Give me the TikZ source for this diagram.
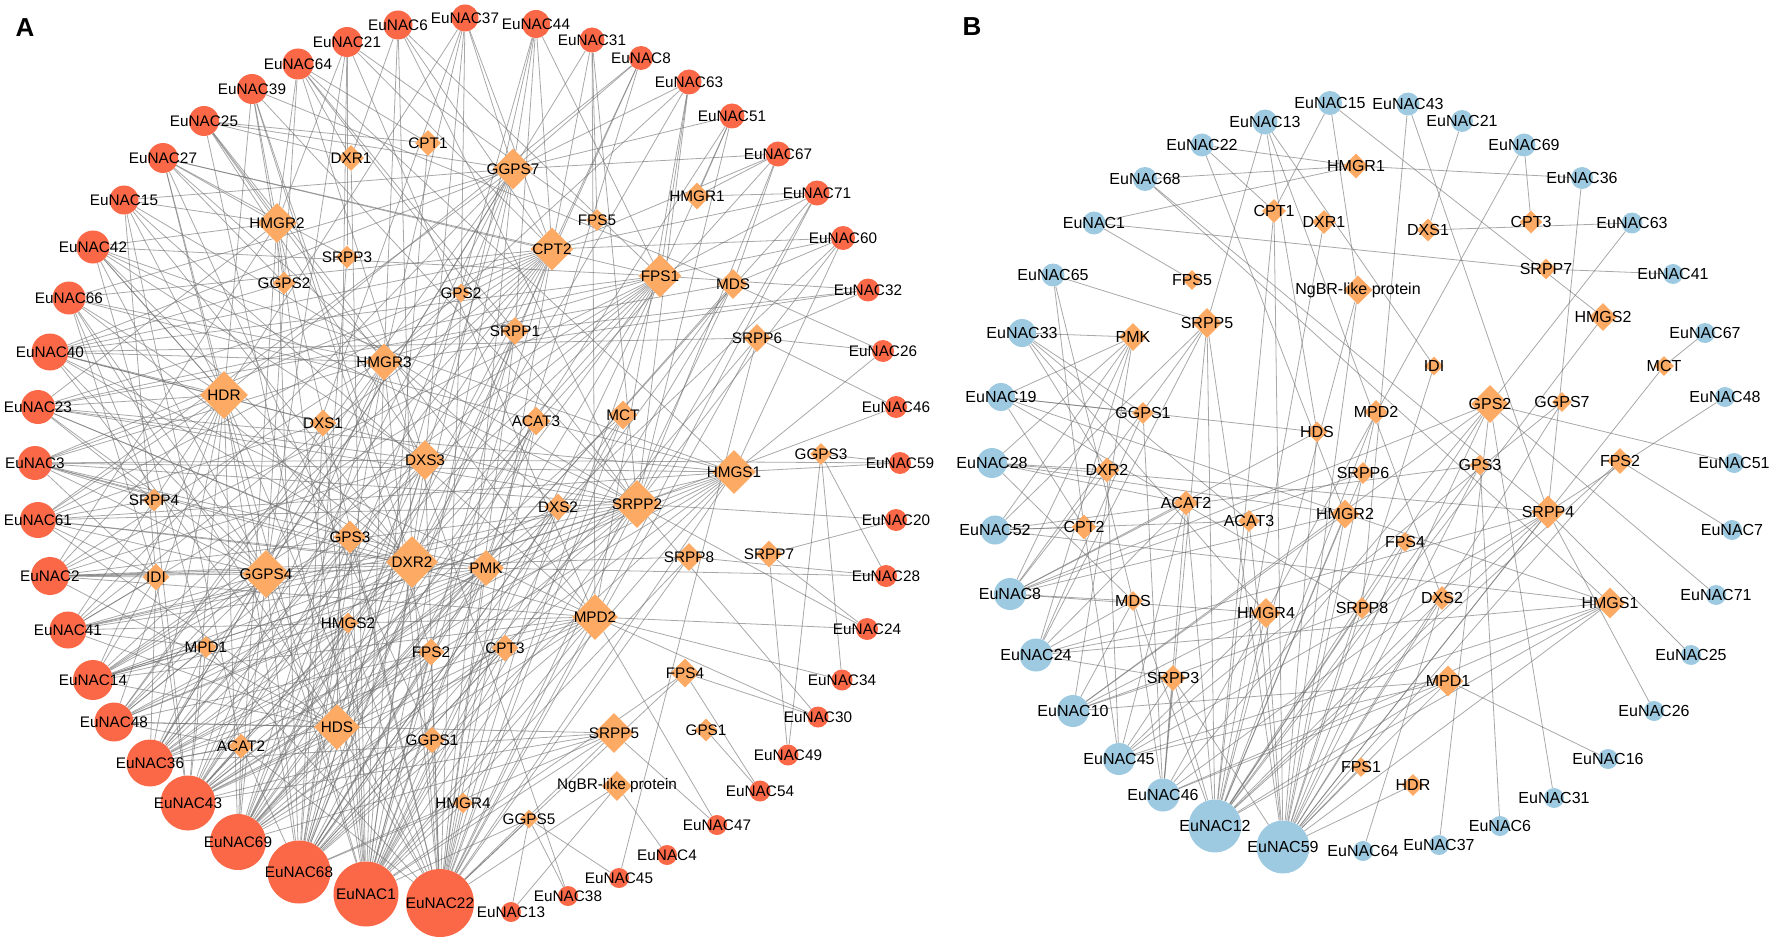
\documentclass[tikz,border=0pt]{standalone}
\usepackage{fontspec}
\setmainfont{Liberation Sans}
\usepackage{tikz}
\usetikzlibrary{shapes.geometric}
\usetikzlibrary{backgrounds}
\definecolor{nac-red}{RGB}{250,104,72}
\definecolor{nac-blue}{RGB}{158,202,225}
\definecolor{gene-orange}{RGB}{253,170,100}
\definecolor{edge-gray}{RGB}{110,110,110}

\begin{document}
\begin{tikzpicture}[x=1pt, y=-1pt,
nacA/.style={circle,inner sep=0pt,fill=nac-red,label={center:EuNAC#1}},
nacB/.style={circle,inner sep=0pt,fill=nac-blue,label={center:EuNAC#1}},
gene/.style={diamond,inner sep=0pt,fill=gene-orange,label={center:#1}},
edge/.style={draw=edge-gray,draw opacity=0.6,line width=0.8pt},
every label/.style={font=\fontsize{15.3}{16}\selectfont,inner sep=0pt},
panel/.style={font=\bfseries\fontsize{26}{28}\selectfont}]
\useasboundingbox (0,0) rectangle (1772,947);

% panel letters
\node[panel] (labA) at (25,28) {A};
\node[panel] (labB) at (972,27) {B};

%%%%%%%%%%%%%% panel A
% NAC ring
\node[nacA=6, minimum size=29] (aN6) at (398,25) {};
\node[nacA=21, minimum size=30] (aN21) at (347,42) {};
\node[nacA=64, minimum size=31] (aN64) at (298,64) {};
\node[nacA=39, minimum size=30] (aN39) at (252,89) {};
\node[nacA=25, minimum size=30] (aN25) at (204,121) {};
\node[nacA=27, minimum size=30] (aN27) at (163,158) {};
\node[nacA=15, minimum size=29] (aN15) at (124,200) {};
\node[nacA=42, minimum size=33] (aN42) at (93,247) {};
\node[nacA=66, minimum size=33] (aN66) at (69,298) {};
\node[nacA=40, minimum size=37] (aN40) at (50,352) {};
\node[nacA=23, minimum size=34] (aN23) at (38,407) {};
\node[nacA=3, minimum size=34] (aN3) at (35,463) {};
\node[nacA=61, minimum size=36] (aN61) at (38,520) {};
\node[nacA=2, minimum size=38] (aN2) at (50,576) {};
\node[nacA=41, minimum size=37] (aN41) at (68,630) {};
\node[nacA=14, minimum size=40] (aN14) at (93,680) {};
\node[nacA=48, minimum size=39] (aN48) at (114,722) {};
\node[nacA=36, minimum size=47] (aN36) at (150,763) {};
\node[nacA=43, minimum size=55] (aN43) at (188,803) {};
\node[nacA=69, minimum size=56] (aN69) at (238,842) {};
\node[nacA=68, minimum size=63] (aN68) at (299,872) {};
\node[nacA=1, minimum size=65] (aN1) at (366,894) {};
\node[nacA=22, minimum size=68] (aN22) at (440,903) {};
\node[nacA=13, minimum size=20] (aN13) at (511,912) {};
\node[nacA=38, minimum size=20] (aN38) at (568,896) {};
\node[nacA=45, minimum size=20] (aN45) at (619,878) {};
\node[nacA=4, minimum size=20] (aN4) at (667,855) {};
\node[nacA=47, minimum size=20] (aN47) at (717,825) {};
\node[nacA=54, minimum size=21] (aN54) at (760,791) {};
\node[nacA=49, minimum size=21] (aN49) at (788,755) {};
\node[nacA=30, minimum size=21] (aN30) at (818,717) {};
\node[nacA=34, minimum size=21] (aN34) at (842,680) {};
\node[nacA=24, minimum size=22] (aN24) at (867,629) {};
\node[nacA=28, minimum size=22] (aN28) at (886,576) {};
\node[nacA=20, minimum size=22] (aN20) at (896,520) {};
\node[nacA=59, minimum size=22] (aN59) at (900,463) {};
\node[nacA=46, minimum size=22] (aN46) at (896,407) {};
\node[nacA=26, minimum size=22] (aN26) at (883,351) {};
\node[nacA=32, minimum size=23] (aN32) at (868,290) {};
\node[nacA=60, minimum size=24] (aN60) at (843,238) {};
\node[nacA=71, minimum size=25] (aN71) at (817,193) {};
\node[nacA=67, minimum size=25] (aN67) at (778,154) {};
\node[nacA=51, minimum size=25] (aN51) at (732,116) {};
\node[nacA=63, minimum size=25] (aN63) at (689,82) {};
\node[nacA=8, minimum size=24] (aN8) at (641,58) {};
\node[nacA=31, minimum size=25] (aN31) at (592,40) {};
\node[nacA=44, minimum size=28] (aN44) at (536,24) {};
\node[nacA=37, minimum size=27] (aN37) at (465,18) {};

% genes
\node[gene=HMGR2, minimum size=40] (aHMGR2) at (277,223) {};
\node[gene=DXR1, minimum size=26] (aDXR1) at (351,158) {};
\node[gene=CPT1, minimum size=26] (aCPT1) at (428,143) {};
\node[gene=SRPP3, minimum size=23] (aSRPP3) at (347,257) {};
\node[gene=GGPS2, minimum size=23] (aGGPS2) at (284,283) {};
\node[gene=GGPS7, minimum size=41] (aGGPS7) at (513,169) {};
\node[gene=CPT2, minimum size=43] (aCPT2) at (552,249) {};
\node[gene=FPS5, minimum size=22] (aFPS5) at (597,220) {};
\node[gene=HMGR1, minimum size=27] (aHMGR1) at (697,196) {};
\node[gene=FPS1, minimum size=43] (aFPS1) at (660,276) {};
\node[gene=MDS, minimum size=30] (aMDS) at (733,284) {};
\node[gene=GPS2, minimum size=19] (aGPS2) at (461,293) {};
\node[gene=SRPP1, minimum size=28] (aSRPP1) at (515,331) {};
\node[gene=SRPP6, minimum size=28] (aSRPP6) at (757,338) {};
\node[gene=HMGR3, minimum size=37] (aHMGR3) at (384,362) {};
\node[gene=HDR, minimum size=48] (aHDR) at (224,395) {};
\node[gene=DXS1, minimum size=27] (aDXS1) at (323,423) {};
\node[gene=DXS3, minimum size=40] (aDXS3) at (425,460) {};
\node[gene=ACAT3, minimum size=29] (aACAT3) at (536,421) {};
\node[gene=MCT, minimum size=29] (aMCT) at (623,415) {};
\node[gene=HMGS1, minimum size=44] (aHMGS1) at (734,472) {};
\node[gene=GGPS3, minimum size=22] (aGGPS3) at (821,454) {};
\node[gene=SRPP4, minimum size=23] (aSRPP4) at (154,500) {};
\node[gene=GPS3, minimum size=33] (aGPS3) at (350,537) {};
\node[gene=DXR2, minimum size=52] (aDXR2) at (412,562) {};
\node[gene=DXS2, minimum size=27] (aDXS2) at (558,507) {};
\node[gene=SRPP2, minimum size=48] (aSRPP2) at (637,504) {};
\node[gene=IDI, minimum size=27] (aIDI) at (156,577) {};
\node[gene=GGPS4, minimum size=48] (aGGPS4) at (266,574) {};
\node[gene=PMK, minimum size=36] (aPMK) at (486,568) {};
\node[gene=SRPP8, minimum size=28] (aSRPP8) at (689,557) {};
\node[gene=SRPP7, minimum size=27] (aSRPP7) at (769,554) {};
\node[gene=HMGS2, minimum size=21] (aHMGS2) at (348,623) {};
\node[gene=MPD2, minimum size=46] (aMPD2) at (595,617) {};
\node[gene=MPD1, minimum size=22] (aMPD1) at (206,647) {};
\node[gene=FPS2, minimum size=27] (aFPS2) at (431,652) {};
\node[gene=CPT3, minimum size=27] (aCPT3) at (505,648) {};
\node[gene=FPS4, minimum size=29] (aFPS4) at (685,673) {};
\node[gene=HDS, minimum size=46] (aHDS) at (337,727) {};
\node[gene=ACAT2, minimum size=25] (aACAT2) at (241,746) {};
\node[gene=GGPS1, minimum size=27] (aGGPS1) at (432,740) {};
\node[gene=SRPP5, minimum size=40] (aSRPP5) at (614,733) {};
\node[gene=GPS1, minimum size=23] (aGPS1) at (706,730) {};
\node[gene=NgBR-like protein, minimum size=30] (aNgBR) at (617,786) {};
\node[gene=HMGR4, minimum size=21] (aHMGR4) at (463,803) {};
\node[gene=GGPS5, minimum size=19] (aGGPS5) at (529,819) {};

%%%%%%%%%%%%%% panel B
\begin{scope}[every label/.style={font=\fontsize{16}{17}\selectfont,inner sep=0pt}]
% NAC ring
\node[nacB=15, minimum size=24] (bN15) at (1330,103) {};
\node[nacB=43, minimum size=23] (bN43) at (1408,104) {};
\node[nacB=21, minimum size=22] (bN21) at (1462,121) {};
\node[nacB=69, minimum size=23] (bN69) at (1524,145) {};
\node[nacB=36, minimum size=22] (bN36) at (1582,178) {};
\node[nacB=63, minimum size=21] (bN63) at (1632,223) {};
\node[nacB=41, minimum size=20] (bN41) at (1673,274) {};
\node[nacB=67, minimum size=20] (bN67) at (1705,333) {};
\node[nacB=48, minimum size=20] (bN48) at (1725,397) {};
\node[nacB=51, minimum size=20] (bN51) at (1734,463) {};
\node[nacB=7, minimum size=20] (bN7) at (1732,530) {};
\node[nacB=71, minimum size=20] (bN71) at (1716,595) {};
\node[nacB=25, minimum size=20] (bN25) at (1691,655) {};
\node[nacB=26, minimum size=20] (bN26) at (1654,711) {};
\node[nacB=16, minimum size=20] (bN16) at (1608,759) {};
\node[nacB=31, minimum size=20] (bN31) at (1554,798) {};
\node[nacB=6, minimum size=20] (bN6) at (1500,826) {};
\node[nacB=37, minimum size=20] (bN37) at (1439,845) {};
\node[nacB=64, minimum size=20] (bN64) at (1363,851) {};
\node[nacB=59, minimum size=53] (bN59) at (1283,847) {};
\node[nacB=12, minimum size=53] (bN12) at (1215,826) {};
\node[nacB=46, minimum size=33] (bN46) at (1163,795) {};
\node[nacB=45, minimum size=32] (bN45) at (1119,759) {};
\node[nacB=10, minimum size=32] (bN10) at (1073,711) {};
\node[nacB=24, minimum size=33] (bN24) at (1036,655) {};
\node[nacB=8, minimum size=32] (bN8) at (1010,594) {};
\node[nacB=52, minimum size=29] (bN52) at (995,530) {};
\node[nacB=28, minimum size=30] (bN28) at (992,463) {};
\node[nacB=19, minimum size=28] (bN19) at (1001,397) {};
\node[nacB=33, minimum size=28] (bN33) at (1022,333) {};
\node[nacB=65, minimum size=23] (bN65) at (1053,275) {};
\node[nacB=1, minimum size=23] (bN1) at (1094,223) {};
\node[nacB=68, minimum size=24] (bN68) at (1145,179) {};
\node[nacB=22, minimum size=23] (bN22) at (1202,145) {};
\node[nacB=13, minimum size=25] (bN13) at (1265,122) {};

% genes
\node[gene=HMGR1, minimum size=25] (bHMGR1) at (1356,166) {};
\node[gene=CPT1, minimum size=24] (bCPT1) at (1274,211) {};
\node[gene=DXR1, minimum size=24] (bDXR1) at (1324,222) {};
\node[gene=DXS1, minimum size=23] (bDXS1) at (1428,230) {};
\node[gene=CPT3, minimum size=23] (bCPT3) at (1531,222) {};
\node[gene=SRPP7, minimum size=21] (bSRPP7) at (1546,269) {};
\node[gene=FPS5, minimum size=20] (bFPS5) at (1192,280) {};
\node[gene=NgBR-like protein, minimum size=29] (bNgBR) at (1358,290) {};
\node[gene=HMGS2, minimum size=28] (bHMGS2) at (1603,317) {};
\node[gene=SRPP5, minimum size=30] (bSRPP5) at (1207,323) {};
\node[gene=PMK, minimum size=28] (bPMK) at (1133,337) {};
\node[gene=IDI, minimum size=19] (bIDI) at (1434,366) {};
\node[gene=MCT, minimum size=20] (bMCT) at (1664,366) {};
\node[gene=MPD2, minimum size=24] (bMPD2) at (1376,412) {};
\node[gene=GPS2, minimum size=38] (bGPS2) at (1490,404) {};
\node[gene=GGPS7, minimum size=20] (bGGPS7) at (1562,402) {};
\node[gene=GGPS1, minimum size=22] (bGGPS1) at (1143,413) {};
\node[gene=HDS, minimum size=21] (bHDS) at (1317,432) {};
\node[gene=DXR2, minimum size=25] (bDXR2) at (1107,470) {};
\node[gene=SRPP6, minimum size=22] (bSRPP6) at (1363,473) {};
\node[gene=GPS3, minimum size=21] (bGPS3) at (1480,465) {};
\node[gene=FPS2, minimum size=26] (bFPS2) at (1620,461) {};
\node[gene=ACAT2, minimum size=25] (bACAT2) at (1186,503) {};
\node[gene=ACAT3, minimum size=22] (bACAT3) at (1249,521) {};
\node[gene=HMGR2, minimum size=29] (bHMGR2) at (1345,514) {};
\node[gene=SRPP4, minimum size=33] (bSRPP4) at (1548,512) {};
\node[gene=CPT2, minimum size=25] (bCPT2) at (1084,527) {};
\node[gene=FPS4, minimum size=20] (bFPS4) at (1405,542) {};
\node[gene=MDS, minimum size=20] (bMDS) at (1133,601) {};
\node[gene=HMGR4, minimum size=30] (bHMGR4) at (1266,613) {};
\node[gene=SRPP8, minimum size=22] (bSRPP8) at (1362,608) {};
\node[gene=DXS2, minimum size=24] (bDXS2) at (1442,598) {};
\node[gene=HMGS1, minimum size=31] (bHMGS1) at (1610,603) {};
\node[gene=SRPP3, minimum size=26] (bSRPP3) at (1173,678) {};
\node[gene=MPD1, minimum size=31] (bMPD1) at (1448,681) {};
\node[gene=FPS1, minimum size=20] (bFPS1) at (1361,767) {};
\node[gene=HDR, minimum size=22] (bHDR) at (1413,785) {};
\end{scope}

%%%%%%%%%%%%%% co-expression links, under the nodes
\begin{pgfonlayer}{background}
% panel A
\foreach \g in {DXR1,CPT2,SRPP2,HMGR3,FPS1,DXR2} \draw[edge] (aN6) -- (a\g);
\foreach \g in {HMGR2,CPT2,SRPP3,GGPS4,HDS,MPD2,FPS5} \draw[edge] (aN21) -- (a\g);
\foreach \g in {HMGR2,DXR1,SRPP1,DXS3,HMGS1,GGPS4,CPT1,SRPP2} \draw[edge] (aN64) -- (a\g);
\foreach \g in {HMGR2,GGPS2,DXR2,SRPP2,HDR,MDS,FPS2} \draw[edge] (aN39) -- (a\g);
\foreach \g in {HMGR2,CPT1,DXR1,HMGR3,DXS3,GGPS7,HDS,MPD2} \draw[edge] (aN25) -- (a\g);
\foreach \g in {HMGR2,SRPP3,HDR,GGPS4,DXS2,FPS1,GGPS1,CPT2,GGPS2} \draw[edge] (aN27) -- (a\g);
\foreach \g in {HMGR2,HDR,DXR2,GGPS7,IDI,MPD2,SRPP2,ACAT2} \draw[edge] (aN15) -- (a\g);
\foreach \g in {HMGR2,HDR,GGPS4,HMGS1,DXS3,FPS1,SRPP2,DXR2,GPS3,MPD1} \draw[edge] (aN42) -- (a\g);
\foreach \g in {HDR,GGPS4,DXR2,SRPP4,HMGR3,CPT2,HMGS1,HDS,IDI,GGPS7} \draw[edge] (aN66) -- (a\g);
\foreach \g in {HDR,DXS1,GGPS4,DXR2,SRPP2,CPT2,GGPS7,MPD2,HDS,HMGR3,FPS1,SRPP6,GGPS2} \draw[edge] (aN40) -- (a\g);
\foreach \g in {HDR,SRPP4,DXS3,DXR2,HMGS1,GPS3,GGPS4,SRPP2,FPS1,HMGR2,CPT2,MDS} \draw[edge] (aN23) -- (a\g);
\foreach \g in {HDR,DXS3,SRPP4,GGPS4,IDI,DXR2,SRPP2,HMGS1,MPD2,CPT2,FPS1,PMK} \draw[edge] (aN3) -- (a\g);
\foreach \g in {HDR,SRPP4,GGPS4,IDI,DXR2,PMK,SRPP2,HMGS1,GGPS7,DXS1,CPT2,HDS} \draw[edge] (aN61) -- (a\g);
\foreach \g in {IDI,GGPS4,HDR,DXR2,SRPP2,DXS3,MPD2,HMGR2,HDS,FPS1,PMK,CPT2,SRPP8} \draw[edge] (aN2) -- (a\g);
\foreach \g in {IDI,GGPS4,MPD1,HDR,HDS,DXR2,SRPP2,HMGS1,CPT2,FPS1,PMK,MPD2,GGPS7} \draw[edge] (aN41) -- (a\g);
\foreach \g in {MPD1,IDI,GGPS4,HDR,HDS,DXR2,SRPP2,HMGS1,CPT2,FPS1,PMK,MPD2,HMGS2,GPS3,DXS3} \draw[edge] (aN14) -- (a\g);
\foreach \g in {MPD1,ACAT2,HDS,GGPS4,HDR,DXR2,SRPP2,HMGS1,CPT2,FPS1,MPD2,SRPP5,DXS2,HMGR3,GGPS7} \draw[edge] (aN48) -- (a\g);
\foreach \g in {ACAT2,MPD1,HDS,GGPS4,IDI,HDR,DXR2,SRPP2,HMGS1,CPT2,FPS1,MPD2,SRPP5,PMK,GPS3,DXS3,HMGR3,GGPS7,FPS2,HMGS2} \draw[edge] (aN36) -- (a\g);
\foreach \g in {ACAT2,MPD1,HDS,GGPS4,IDI,HDR,DXR2,SRPP2,HMGS1,CPT2,FPS1,MPD2,SRPP5,PMK,GPS3,DXS3,HMGR3,GGPS7,FPS2,HMGS2,GGPS1,CPT3,DXS2,MCT,SRPP4} \draw[edge] (aN43) -- (a\g);
\foreach \g in {ACAT2,HDS,GGPS4,HDR,DXR2,SRPP2,HMGS1,CPT2,FPS1,MPD2,SRPP5,PMK,GPS3,DXS3,HMGR3,GGPS7,FPS2,HMGS2,GGPS1,CPT3,DXS2,ACAT3,SRPP1,HMGR2,MDS} \draw[edge] (aN69) -- (a\g);
\foreach \g in {ACAT2,HDS,GGPS4,HDR,DXR2,SRPP2,HMGS1,CPT2,FPS1,MPD2,SRPP5,PMK,GPS3,DXS3,HMGR3,GGPS7,FPS2,HMGS2,GGPS1,CPT3,DXS2,ACAT3,SRPP1,HMGR2,MDS,MCT,HMGR4,DXS1,SRPP3,SRPP6} \draw[edge] (aN68) -- (a\g);
\foreach \g in {HDS,GGPS4,HDR,DXR2,SRPP2,HMGS1,CPT2,FPS1,MPD2,SRPP5,PMK,GPS3,DXS3,HMGR3,GGPS7,FPS2,HMGS2,GGPS1,CPT3,DXS2,ACAT3,SRPP1,HMGR2,MDS,MCT,HMGR4,DXS1,FPS4,SRPP8,GGPS5,DXR1,CPT1} \draw[edge] (aN1) -- (a\g);
\foreach \g in {HDS,GGPS4,HDR,DXR2,SRPP2,HMGS1,CPT2,FPS1,MPD2,SRPP5,PMK,GPS3,DXS3,HMGR3,GGPS7,FPS2,HMGS2,GGPS1,CPT3,DXS2,ACAT3,SRPP1,HMGR2,MDS,MCT,HMGR4,FPS4,SRPP8,GGPS5,NgBR,SRPP6,GPS2,ACAT2,MPD1} \draw[edge] (aN22) -- (a\g);
\foreach \g in {GGPS7,CPT2,HMGR3,DXS3,HDR,GGPS4,GPS2} \draw[edge] (aN37) -- (a\g);
\foreach \g in {GGPS7,CPT2,FPS1,SRPP1,HDS,DXR2} \draw[edge] (aN44) -- (a\g);
\foreach \g in {CPT2,FPS5,SRPP2,GGPS4,MPD2} \draw[edge] (aN31) -- (a\g);
\foreach \g in {CPT2,GGPS7,PMK,HDR,DXR2} \draw[edge] (aN8) -- (a\g);
\foreach \g in {FPS1,GGPS7,HMGR3,SRPP2,MPD2,DXR2} \draw[edge] (aN63) -- (a\g);
\foreach \g in {FPS1,HMGR1,GGPS7,SRPP2,HDS} \draw[edge] (aN51) -- (a\g);
\foreach \g in {GGPS7,HMGR1,MDS,CPT2,DXR2,SRPP2} \draw[edge] (aN67) -- (a\g);
\foreach \g in {HMGR1,CPT2,SRPP2,MPD2,FPS1,HDS} \draw[edge] (aN71) -- (a\g);
\foreach \g in {CPT2,FPS1,SRPP2,HMGS1,DXS2,MDS} \draw[edge] (aN60) -- (a\g);
\foreach \g in {SRPP1,HMGR3,SRPP6,FPS1} \draw[edge] (aN32) -- (a\g);
\foreach \g in {SRPP6,MDS,HMGS1} \draw[edge] (aN26) -- (a\g);
\foreach \g in {SRPP6,SRPP2} \draw[edge] (aN46) -- (a\g);
\foreach \g in {HMGS1,GGPS3,DXS3} \draw[edge] (aN59) -- (a\g);
\foreach \g in {SRPP7,SRPP2} \draw[edge] (aN20) -- (a\g);
\foreach \g in {PMK,SRPP8,GGPS3} \draw[edge] (aN28) -- (a\g);
\foreach \g in {MPD2,SRPP7,SRPP2} \draw[edge] (aN24) -- (a\g);
\foreach \g in {GGPS3,MPD2} \draw[edge] (aN34) -- (a\g);
\foreach \g in {MPD2,SRPP2,FPS4} \draw[edge] (aN30) -- (a\g);
\foreach \g in {SRPP7,GGPS3} \draw[edge] (aN49) -- (a\g);
\foreach \g in {GPS1,FPS4} \draw[edge] (aN54) -- (a\g);
\foreach \g in {SRPP5,MPD2} \draw[edge] (aN47) -- (a\g);
\foreach \g in {NgBR} \draw[edge] (aN4) -- (a\g);
\foreach \g in {GGPS5,SRPP6} \draw[edge] (aN45) -- (a\g);
\foreach \g in {GGPS5,HMGR3} \draw[edge] (aN38) -- (a\g);
\foreach \g in {GGPS5,NgBR} \draw[edge] (aN13) -- (a\g);

% panel B
\foreach \g in {CPT1,HMGS2,NgBR} \draw[edge] (bN15) -- (b\g);
\foreach \g in {SRPP8,SRPP4} \draw[edge] (bN43) -- (b\g);
\foreach \g in {DXS1} \draw[edge] (bN21) -- (b\g);
\foreach \g in {CPT3,HMGR4} \draw[edge] (bN69) -- (b\g);
\foreach \g in {HMGR1,SRPP4} \draw[edge] (bN36) -- (b\g);
\foreach \g in {DXS1,GPS2} \draw[edge] (bN63) -- (b\g);
\foreach \g in {SRPP7} \draw[edge] (bN41) -- (b\g);
\foreach \g in {MCT} \draw[edge] (bN67) -- (b\g);
\foreach \g in {SRPP4} \draw[edge] (bN48) -- (b\g);
\foreach \g in {GPS2} \draw[edge] (bN51) -- (b\g);
\foreach \g in {FPS2} \draw[edge] (bN7) -- (b\g);
\foreach \g in {GPS2} \draw[edge] (bN71) -- (b\g);
\foreach \g in {SRPP4} \draw[edge] (bN25) -- (b\g);
\foreach \g in {SRPP4} \draw[edge] (bN26) -- (b\g);
\foreach \g in {MPD1} \draw[edge] (bN16) -- (b\g);
\foreach \g in {GPS2} \draw[edge] (bN31) -- (b\g);
\foreach \g in {GPS3} \draw[edge] (bN6) -- (b\g);
\foreach \g in {GPS2} \draw[edge] (bN37) -- (b\g);
\foreach \g in {DXS2} \draw[edge] (bN64) -- (b\g);
\foreach \g in {SRPP8,DXS2,HMGS1,MPD1,SRPP4,GPS2,GPS3,FPS4,HMGR2,HMGR4,SRPP3,FPS1,HDR,NgBR,SRPP5,ACAT3,HDS,FPS2,MCT,IDI,CPT1,MPD2,GGPS7} \draw[edge] (bN59) -- (b\g);
\foreach \g in {SRPP3,HMGR4,MDS,SRPP8,MPD1,HMGS1,SRPP4,GPS2,HMGR2,ACAT2,ACAT3,NgBR,SRPP5,CPT1,DXR1,GPS3,FPS2,HMGS2,DXS2,FPS4,SRPP6,MPD2} \draw[edge] (bN12) -- (b\g);
\foreach \g in {SRPP3,HMGR4,MDS,ACAT2,SRPP5,GGPS1,MPD1,SRPP4,HMGS1,GPS2} \draw[edge] (bN46) -- (b\g);
\foreach \g in {SRPP3,HMGR4,MPD1,HMGS1,SRPP4,ACAT2,CPT2,DXR2,GGPS7} \draw[edge] (bN45) -- (b\g);
\foreach \g in {SRPP3,HMGR4,MPD1,SRPP8,HMGR2,GPS2,MDS,PMK} \draw[edge] (bN10) -- (b\g);
\foreach \g in {SRPP3,HMGR4,ACAT2,HMGS1,SRPP4,MDS,PMK,GGPS1,SRPP5} \draw[edge] (bN24) -- (b\g);
\foreach \g in {MDS,HMGR4,ACAT2,HMGR2,PMK,HDS,DXR2,SRPP5,GPS2,SRPP6} \draw[edge] (bN8) -- (b\g);
\foreach \g in {CPT2,ACAT3,HMGS1,SRPP5,PMK,GPS3} \draw[edge] (bN52) -- (b\g);
\foreach \g in {DXR2,MDS,HMGR2,PMK,ACAT2,SRPP4} \draw[edge] (bN28) -- (b\g);
\foreach \g in {GGPS1,HDS,CPT2,SRPP8,HMGS1,PMK} \draw[edge] (bN19) -- (b\g);
\foreach \g in {PMK,GGPS1,DXR2,HMGR4,ACAT3} \draw[edge] (bN33) -- (b\g);
\foreach \g in {SRPP5,CPT2,MDS} \draw[edge] (bN65) -- (b\g);
\foreach \g in {HMGR1,FPS5,SRPP7} \draw[edge] (bN1) -- (b\g);
\foreach \g in {HMGR1,SRPP4,HMGS1} \draw[edge] (bN68) -- (b\g);
\foreach \g in {HMGR1,CPT1,HMGR2} \draw[edge] (bN22) -- (b\g);
\foreach \g in {SRPP5,HDS,DXS2,IDI} \draw[edge] (bN13) -- (b\g);
\end{pgfonlayer}

\end{tikzpicture}
\end{document}
